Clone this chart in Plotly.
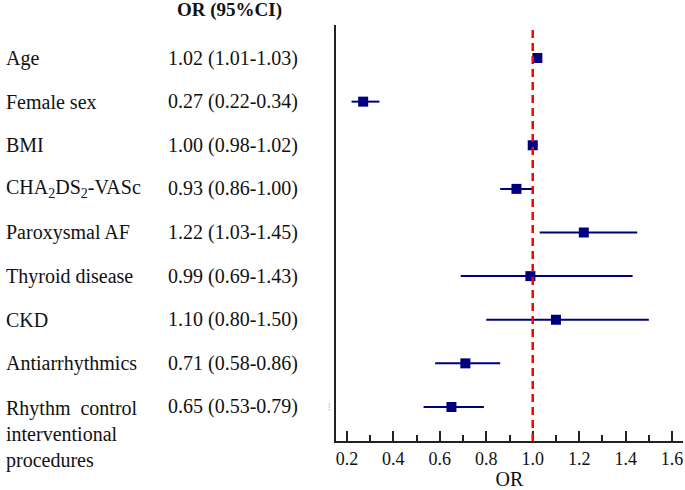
import plotly.graph_objects as go

labels = ["Age", "Female sex", "BMI", "CHA<sub>2</sub>DS<sub>2</sub>-VASc", "Paroxysmal AF",
          "Thyroid disease", "CKD", "Antiarrhythmics",
          "Rhythm  control<br>interventional<br>procedures"]
or_vals = [1.02, 0.27, 1.00, 0.93, 1.22, 0.99, 1.10, 0.71, 0.65]
ci_low = [1.01, 0.22, 0.98, 0.86, 1.03, 0.69, 0.80, 0.58, 0.53]
ci_high = [1.03, 0.34, 1.02, 1.00, 1.45, 1.43, 1.50, 0.86, 0.79]
or_text = ["1.02 (1.01-1.03)", "0.27 (0.22-0.34)", "1.00 (0.98-1.02)", "0.93 (0.86-1.00)",
           "1.22 (1.03-1.45)", "0.99 (0.69-1.43)", "1.10 (0.80-1.50)", "0.71 (0.58-0.86)",
           "0.65 (0.53-0.79)"]
tick_vals = [0.2, 0.4, 0.6, 0.8, 1.0, 1.2, 1.4, 1.6]
tick_text = ["0.2", "0.4", "0.6", "0.8", "1.0", "1.2", "1.4", "1.6"]

FONT = "Liberation Serif"
NAVY = "#00007f"
rows = list(range(len(labels)))

fig = go.Figure()
fig.add_trace(go.Scatter(
    x=or_vals, y=rows, mode="markers",
    marker=dict(symbol="square", size=10, color=NAVY),
    error_x=dict(type="data", symmetric=False,
                 array=[h - o for h, o in zip(ci_high, or_vals)],
                 arrayminus=[o - l for o, l in zip(or_vals, ci_low)],
                 color=NAVY, thickness=2, width=0),
    showlegend=False, hoverinfo="skip"))

fig.add_shape(type="line", xref="x", yref="paper", x0=1.0, x1=1.0, y0=0, y1=0.993,
              line=dict(color="#ff0000", width=2.5, dash="8px,5px"))

W = 685 - 336 - 2
for i, (lab, t) in enumerate(zip(labels, or_text)):
    multi = "<br>" in lab
    fig.add_annotation(xref="paper", yref="y", x=(4 - 336) / W, y=i, text=lab,
                       showarrow=False, xanchor="left",
                       yanchor="top" if multi else "middle",
                       yshift=12 if multi else 0, align="left",
                       font=dict(family=FONT, size=20, color="#111"))
    fig.add_annotation(xref="paper", yref="y", x=(166 - 336) / W, y=i, text=t,
                       showarrow=False, xanchor="left", yanchor="middle",
                       font=dict(family=FONT, size=20, color="#111"))

fig.add_annotation(xref="paper", yref="paper", x=(229 - 336) / W, y=1, yshift=15,
                   text="<b>OR (95%CI)</b>", showarrow=False, xanchor="center",
                   yanchor="middle", font=dict(family=FONT, size=19, color="#111"))
fig.add_annotation(xref="paper", yref="y", x=(326 - 336) / W, y=8, text="⁝",
                   showarrow=False, font=dict(family=FONT, size=9, color="#5b9bd5"))

fig.update_layout(
    width=685, height=490, margin=dict(l=336, r=2, t=25, b=49),
    paper_bgcolor="white", plot_bgcolor="white",
    font=dict(family=FONT, color="#111"),
    xaxis=dict(range=[0.153, 1.647], tickvals=tick_vals, ticktext=tick_text,
               ticks="inside", ticklen=10, tickwidth=2, tickcolor="#222",
               minor=dict(dtick=0.1, tick0=0.1, ticks="inside", ticklen=6, tickwidth=2, tickcolor="#222"),
               showline=True, linecolor="#222", linewidth=2, showgrid=False, zeroline=False,
               tickfont=dict(family=FONT, size=18, color="#111"), ticklabelstandoff=0,
               title=dict(text="OR", font=dict(family=FONT, size=20, color="#111"), standoff=0)),
    yaxis=dict(range=[8.78, -0.757], showticklabels=False, ticks="", showline=True,
               linecolor="#222", linewidth=2, showgrid=False, zeroline=False),
)
fig.write_html("out.html", config={"displayModeBar": False},
               post_script="document.body.style.margin='0';")
